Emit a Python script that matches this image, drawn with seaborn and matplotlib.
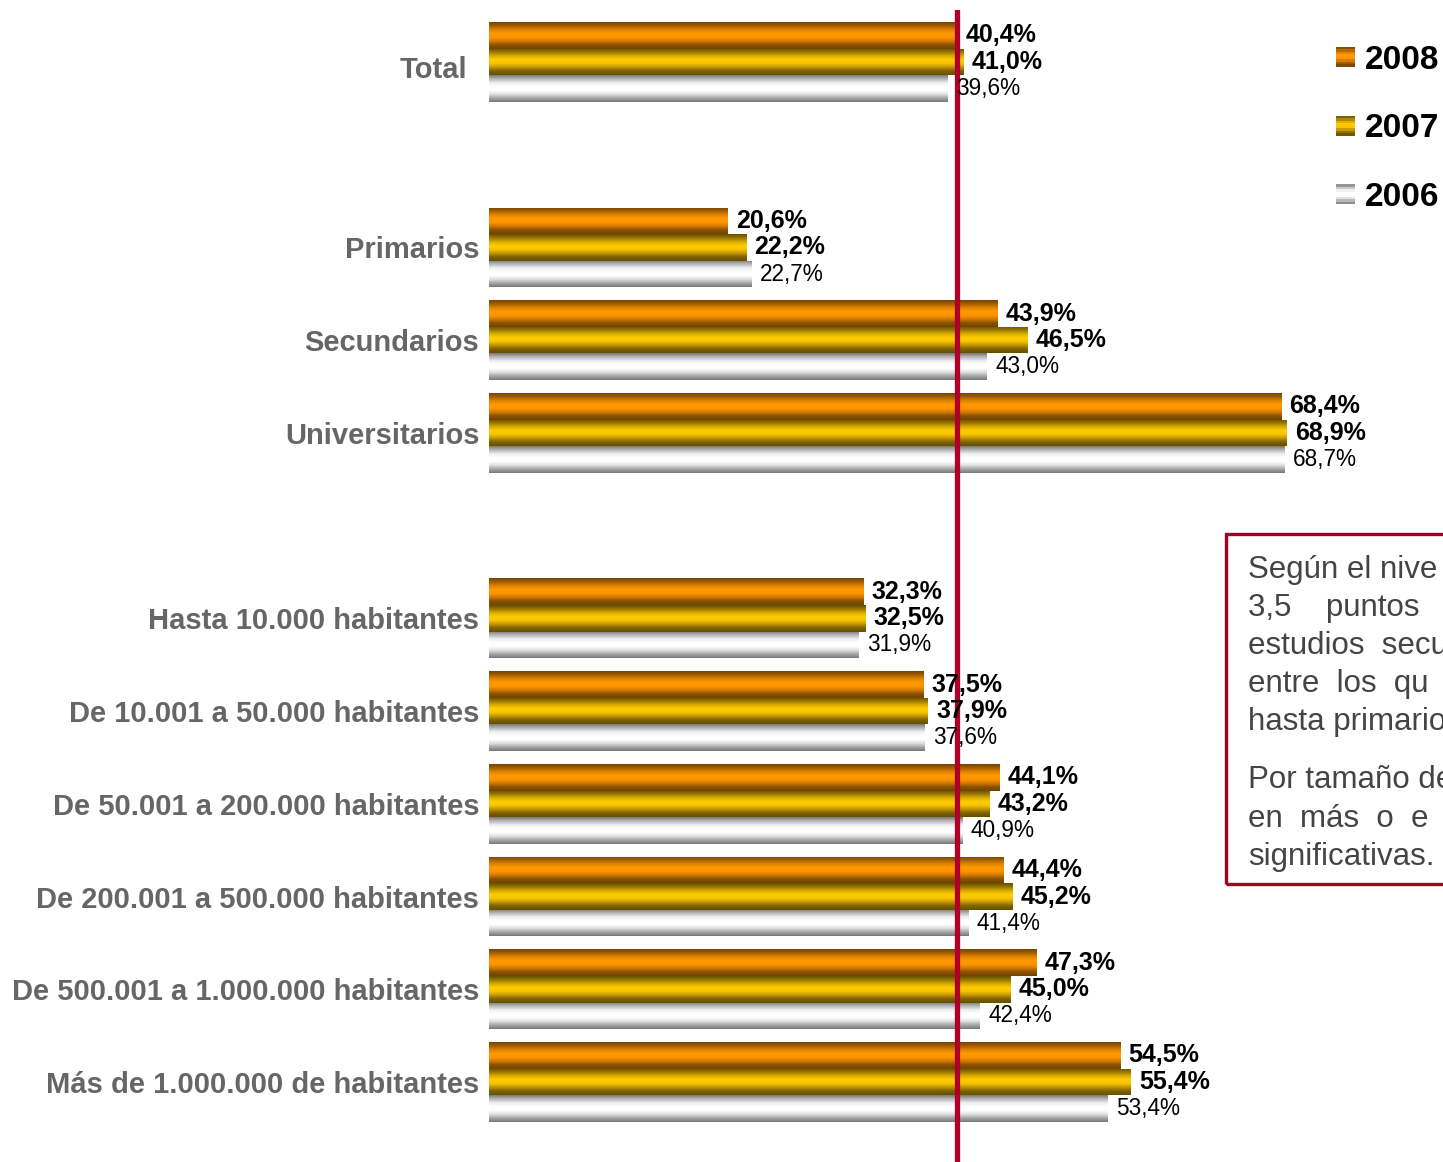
import numpy as np
import pandas as pd
import matplotlib
matplotlib.use("Agg")
import matplotlib.pyplot as plt
import seaborn as sns
from matplotlib.colors import LinearSegmentedColormap
from matplotlib.patches import Rectangle
from matplotlib.legend_handler import HandlerBase

# categories (blank entries are the gaps between blocks)
categories = ["Total", " ", "Primarios", "Secundarios", "Universitarios", "  ",
              "Hasta 10.000 habitantes", "De 10.001 a 50.000 habitantes",
              "De 50.001 a 200.000 habitantes", "De 200.001 a 500.000 habitantes",
              "De 500.001 a 1.000.000 habitantes", "Más de 1.000.000 de habitantes"]
groups = ["Total", "Primarios", "Secundarios", "Universitarios",
          "Hasta 10.000 habitantes", "De 10.001 a 50.000 habitantes",
          "De 50.001 a 200.000 habitantes", "De 200.001 a 500.000 habitantes",
          "De 500.001 a 1.000.000 habitantes", "Más de 1.000.000 de habitantes"]
years = ["2008", "2007", "2006"]
v2008 = [40.4, 20.6, 43.9, 68.4, 32.3, 37.5, 44.1, 44.4, 47.3, 54.5]
v2007 = [41.0, 22.2, 46.5, 68.9, 32.5, 37.9, 43.2, 45.2, 45.0, 55.4]
v2006 = [39.6, 22.7, 43.0, 68.7, 31.9, 37.6, 40.9, 41.4, 42.4, 53.4]

df = pd.DataFrame({
    "grupo": groups * 3,
    "año": [y for y in years for _ in groups],
    "valor": v2008 + v2007 + v2006,
})

# gradient colours per series (top -> bottom of each bar)
grads = {
    "2008": ["#744400", "#a86000", "#e08400", "#ff9a00", "#ff9400", "#d07800", "#8a5200", "#744400"],
    "2007": ["#665000", "#9a7800", "#d8ac00", "#ffcc00", "#f8c400", "#c09400", "#806200", "#665000"],
    "2006": ["#7a7a7a", "#b8b8b8", "#eeeeee", "#ffffff", "#ffffff", "#e0e0e0", "#a8a8a8", "#787878"],
}
cmaps = {y: LinearSegmentedColormap.from_list(y, grads[y]) for y in years}
base_cols = {"2008": "#ff9900", "2007": "#ffcc00", "2006": "#dddddd"}

W, H = 1443, 1162
fig = plt.figure(figsize=(W / 100, H / 100), dpi=100)
ax = fig.add_axes([489 / W, 0, (W - 489) / W, (H - 10) / H])

sns.barplot(data=df, y="grupo", x="valor", hue="año", order=categories,
            hue_order=years, palette=base_cols, width=0.86, orient="h",
            legend=False, ax=ax, saturation=1)

step = (1082 - 62) / 11
xmax = (W - 489) / 11.58

# gradient fill on every bar
grad_img = np.linspace(0, 1, 64).reshape(-1, 1)
for y, cont in zip(years, ax.containers):
    for bar in cont:
        x0, y0 = bar.get_x(), bar.get_y()
        w, h = bar.get_width(), bar.get_height()
        if not np.isfinite(w) or w == 0:
            continue
        bar.set_edgecolor("none")
        im = ax.imshow(grad_img, cmap=cmaps[y], aspect="auto",
                       extent=[x0, x0 + w, y0 + h, y0], interpolation="bilinear",
                       zorder=2)
        im.set_clip_path(bar)

ax.set_xlim(0, xmax)
ax.set_ylim((H - 62) / step, -52 / step)

# reference line at the 2008 total
ax.axvline(v2008[0], color="#b0002a", lw=3.8, zorder=3)

# value labels
for y, cont, vals in zip(years, ax.containers, [v2008, v2007, v2006]):
    bars = [b for b in cont if np.isfinite(b.get_width()) and b.get_width() > 0]
    for bar, v in zip(bars, vals):
        yc = bar.get_y() + bar.get_height() / 2
        bold = y != "2006"
        ax.annotate(f"{v:.1f}%".replace(".", ","), (v, yc), xytext=(6, 0),
                    textcoords="offset points", va="center", ha="left",
                    fontsize=18 if bold else 16.3,
                    fontweight="bold" if bold else "normal",
                    color="black", zorder=4, family="Liberation Sans")

ax.set_xticks([])
ax.set_xlabel("")
ax.set_ylabel("")
for s in ax.spines.values():
    s.set_visible(False)
ax.set_yticks(range(len(categories)))
ax.set_yticklabels(["" if c == "Total" else c for c in categories])
ax.tick_params(axis="y", length=0, pad=7)
for lab in ax.get_yticklabels():
    lab.set_fontsize(21)
    lab.set_fontweight("bold")
    lab.set_color("#666666")
    lab.set_family("Liberation Sans")
ax.annotate("Total", (0, categories.index("Total")), xycoords=("axes fraction", "data"),
            xytext=(-16, -6), textcoords="offset points", ha="right", va="center",
            fontsize=21, fontweight="bold", color="#666666", family="Liberation Sans")
ax.patch.set_alpha(0)


class GradHandler(HandlerBase):
    def __init__(self, cmap):
        super().__init__()
        self.cmap = cmap

    def create_artists(self, legend, orig_handle, xdescent, ydescent,
                       width, height, fontsize, trans):
        n = 8
        arts = []
        for i in range(n):
            r = Rectangle((-xdescent, -ydescent + height * i / n), width, height / n,
                          facecolor=self.cmap(1 - (i + 0.5) / n), edgecolor="none",
                          transform=trans)
            arts.append(r)
        return arts


handles = [Rectangle((0, 0), 1, 1) for _ in years]
leg = fig.legend(handles, years, loc="upper right",
                 bbox_to_anchor=(1456 / W, 1 - 28 / H),
                 handler_map={h: GradHandler(cmaps[y]) for h, y in zip(handles, years)},
                 frameon=False, handlelength=0.55, handleheight=0.55,
                 handletextpad=0.3, labelspacing=1.13, borderpad=0,
                 prop={"family": "Liberation Sans", "weight": "bold", "size": 24})

# text box on the right (cut by the right edge, as in the source)
fig.patches.append(Rectangle((1226 / W, 1 - 884 / H), 400 / W, 350 / H,
                             transform=fig.transFigure, facecolor="none",
                             edgecolor="#a50021", lw=2.4, clip_on=False))
lines = [(570, "Según el nive"),
         (608, "3,5    puntos"),
         (646, "estudios  secu"),
         (684, "entre  los  qu"),
         (722, "hasta primario"),
         (780, "Por tamaño de"),
         (819, "en  más  o  e"),
         (857, "significativas.")]
for yy, txt in lines:
    fig.text(1248 / W, 1 - yy / H, txt, fontsize=22.5, color="#444444",
             va="center", ha="left", family="Liberation Sans")

fig.savefig("out.png", dpi=100)
